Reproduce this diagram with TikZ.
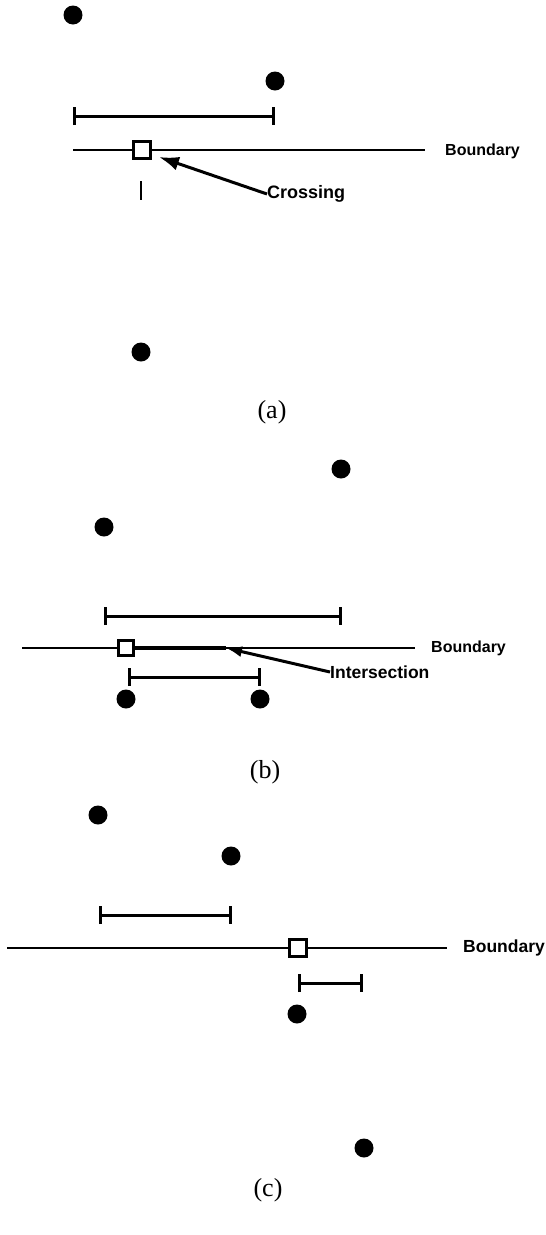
\documentclass[tikz,border=0pt]{standalone}
\usepackage{fontspec}
\setmainfont{Liberation Serif}
\newfontfamily\lab{Liberation Sans}
\usetikzlibrary{arrows.meta}
\begin{document}
\begin{tikzpicture}[x=1pt,y=-1pt,
  dot/.style={circle,fill=black,inner sep=0pt,minimum size=19pt},
  sq/.style={rectangle,draw,line width=3pt,fill=white,inner sep=0pt,minimum size=15pt},
  bnd/.style={line width=2.4pt},
  interval/.style={line width=3pt,{Bar[width=18pt,line width=3pt]}-{Bar[width=18pt,line width=3pt]}},
  pointer/.style={line width=3pt,-{Latex[length=20pt,width=14pt]}},
  txt/.style={font=\lab\bfseries\fontsize{16}{18}\selectfont,inner sep=0pt,anchor=west},
  captxt/.style={font=\fontsize{26}{28}\selectfont,inner sep=0pt}]
\useasboundingbox (0,0) rectangle (546,1235);
% ---------- (a) ----------
\node[dot] (a1) at (73,15) {};
\node[dot] (a2) at (275,81) {};
\coordinate (ai1) at (73,116);
\coordinate (ai2) at (275,116);
\draw[interval] (ai1) -- (ai2);
\coordinate (ab1) at (73,150);
\coordinate (ab2) at (425,150);
\draw[bnd] (ab1) -- (ab2);
\node[txt] (abl) at (445,151) {Boundary};
\node[sq,minimum size=17pt] (asq) at (142,150) {};
\coordinate (at1) at (141,181);
\coordinate (at2) at (141,200);
\draw[line width=2.6pt] (at1) -- (at2);
\node[txt,font=\lab\bfseries\fontsize{18}{20}\selectfont] (across) at (267,194) {Crossing};
\coordinate (atip) at (159,157);
\draw[pointer] (across.west) -- (atip);
\node[dot] (a3) at (141,352) {};
\node[captxt] (capa) at (272,412) {(a)};
% ---------- (b) ----------
\node[dot] (b1) at (341,469) {};
\node[dot] (b2) at (104,527) {};
\coordinate (bi1) at (104,616);
\coordinate (bi2) at (342,616);
\draw[interval] (bi1) -- (bi2);
\coordinate (bb1) at (22,648);
\coordinate (bb2) at (415,648);
\draw[bnd,line width=2pt] (bb1) -- (bb2);
\node[txt,font=\lab\bfseries\fontsize{16}{18}\selectfont] (bbl) at (431,648) {Boundary};
\node[sq] (bsq) at (126,648) {};
\coordinate (btip) at (226,648);
\draw[line width=3.2pt] (bsq.east) -- (btip);
\node[txt,font=\lab\bfseries\fontsize{17.5}{19}\selectfont] (binter) at (330,672) {Intersection};
\draw[pointer,-{Latex[length=16pt,width=11pt]}] (binter.west) -- (btip);
\coordinate (bj1) at (128,677);
\coordinate (bj2) at (261,677);
\draw[interval] (bj1) -- (bj2);
\node[dot] (b3) at (126,699) {};
\node[dot] (b4) at (260,699) {};
\node[captxt] (capb) at (265,772) {(b)};
% ---------- (c) ----------
\node[dot] (c1) at (98,815) {};
\node[dot] (c2) at (231,856) {};
\coordinate (ci1) at (99,915);
\coordinate (ci2) at (232,915);
\draw[interval] (ci1) -- (ci2);
\coordinate (cb1) at (7,948);
\coordinate (cb2) at (447,948);
\draw[bnd] (cb1) -- (cb2);
\node[txt,font=\lab\bfseries\fontsize{17.5}{19}\selectfont] (cbl) at (463,948) {Boundary};
\node[sq,minimum size=17pt] (csq) at (298,948) {};
\coordinate (cj1) at (298,983);
\coordinate (cj2) at (363,983);
\draw[interval] (cj1) -- (cj2);
\node[dot] (c3) at (297,1014) {};
\node[dot] (c4) at (364,1148) {};
\node[captxt] (capc) at (268,1190) {(c)};
\end{tikzpicture}
\end{document}
